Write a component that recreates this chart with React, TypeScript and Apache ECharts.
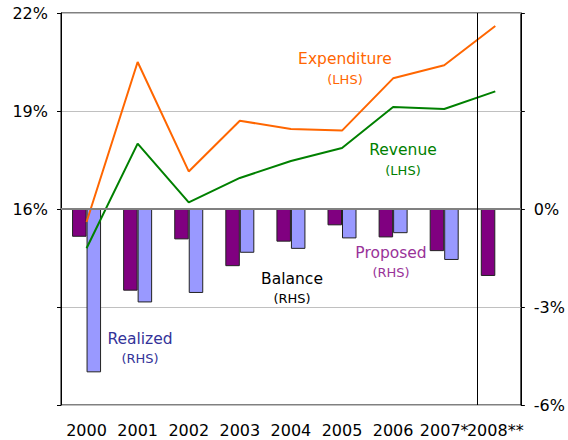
import React, { useEffect, useRef } from "react";
import * as echarts from "echarts";

const categories = ["2000", "2001", "2002", "2003", "2004", "2005", "2006", "2007*", "2008**"];
const expenditure = [15.6, 20.5, 17.15, 18.7, 18.45, 18.4, 20.0, 20.4, 21.6];
const revenue = [14.8, 18.0, 16.2, 16.95, 17.47, 17.87, 19.12, 19.06, 19.6];
const proposed = [-0.85, -2.5, -0.93, -1.75, -1.0, -0.5, -0.87, -1.29, -2.05];
const realized = [-5.0, -2.86, -2.57, -1.34, -1.22, -0.9, -0.74, -1.56, null];
const forecastDivider = 8.14;

const FONT = "DejaVu Sans";

export default function App() {
  const ref = useRef<HTMLDivElement>(null);
  useEffect(() => {
    if (!ref.current) return;
    const chart = echarts.init(ref.current, undefined, { renderer: "svg" });
    const label = (text: string, x: number, y: number, color: string, size: number) => ({
      type: "text",
      x,
      y,
      silent: true,
      z: 100,
      style: { text, fill: color, fontSize: size, fontFamily: FONT, align: "center", verticalAlign: "middle" },
    });
    chart.setOption({
      animation: false,
      backgroundColor: "#fff",
      textStyle: { fontFamily: FONT },
      grid: { left: 61, right: 45, top: 13, bottom: 35, show: true, borderColor: "#000", borderWidth: 1, backgroundColor: "transparent" },
      xAxis: [
        {
          type: "category",
          data: categories,
          axisLine: { show: true, lineStyle: { color: "#000", width: 1 } },
          axisTick: { show: false },
          axisLabel: { color: "#000", fontSize: 16, fontFamily: FONT, margin: 17, interval: 0 },
          splitLine: { show: false },
        },
        { type: "value", min: 0, max: 9, show: false },
      ],
      yAxis: [
        {
          type: "value",
          min: 10,
          max: 22,
          interval: 3,
          position: "left",
          axisLine: { show: true, lineStyle: { color: "#000" } },
          axisTick: { show: true, length: 4, lineStyle: { color: "#000" } },
          axisLabel: {
            color: "#000",
            fontSize: 16,
            fontFamily: FONT,
            margin: 13,
            formatter: (v: number) => (v >= 16 ? v + "%" : ""),
          },
          splitLine: { show: true, lineStyle: { color: "#c0c0c0", width: 1 } },
        },
        {
          type: "value",
          min: -6,
          max: 6,
          interval: 3,
          position: "right",
          axisLine: { show: true, lineStyle: { color: "#000" } },
          axisTick: { show: true, length: 4, lineStyle: { color: "#000" } },
          axisLabel: {
            color: "#000",
            fontSize: 16,
            fontFamily: FONT,
            margin: 13,
            formatter: (v: number) => (v <= 0 ? v + "%" : ""),
          },
          splitLine: { show: false },
        },
      ],
      series: [
        {
          name: "Proposed",
          type: "bar",
          yAxisIndex: 1,
          data: proposed,
          barWidth: 14.5,
          barGap: "0%",
          itemStyle: { color: "#800080", borderColor: "#222", borderWidth: 1 },
          markLine: {
            silent: true,
            symbol: "none",
            label: { show: false },
            lineStyle: { color: "#808080", width: 2, type: "solid" },
            data: [{ yAxis: 0 }],
          },
          z: 2,
        },
        {
          name: "Realized",
          type: "bar",
          yAxisIndex: 1,
          data: realized,
          barWidth: 14.5,
          barGap: "0%",
          itemStyle: { color: "#9999ff", borderColor: "#222", borderWidth: 1 },
          z: 2,
        },
        {
          name: "Expenditure",
          type: "line",
          yAxisIndex: 0,
          data: expenditure,
          showSymbol: false,
          symbol: "none",
          lineStyle: { color: "#ff6600", width: 2 },
          itemStyle: { color: "#ff6600" },
          z: 3,
        },
        {
          name: "Revenue",
          type: "line",
          yAxisIndex: 0,
          data: revenue,
          showSymbol: false,
          symbol: "none",
          lineStyle: { color: "#008000", width: 2 },
          itemStyle: { color: "#008000" },
          z: 3,
        },
        {
          name: "divider",
          type: "line",
          xAxisIndex: 1,
          yAxisIndex: 0,
          data: [],
          markLine: {
            silent: true,
            symbol: "none",
            label: { show: false },
            lineStyle: { color: "#000", width: 1, type: "solid" },
            data: [{ xAxis: forecastDivider }],
          },
        },
      ],
      graphic: [
        label("Expenditure", 345, 59, "#ff6600", 15.5),
        label("(LHS)", 345, 79, "#ff6600", 13),
        label("Revenue", 403, 150, "#008000", 15.5),
        label("(LHS)", 403, 170, "#008000", 13),
        label("Balance", 292, 279, "#000", 15.5),
        label("(RHS)", 292, 298, "#000", 13),
        label("Proposed", 391, 253, "#993399", 15.5),
        label("(RHS)", 391, 272, "#993399", 13),
        label("Realized", 140, 339, "#333399", 15.5),
        label("(RHS)", 140, 358, "#333399", 13),
      ],
    });
    return () => chart.dispose();
  }, []);
  return (
    <div
      ref={ref}
      style={{ position: "fixed", left: 0, top: 0, width: 568, height: 440, background: "#fff" }}
    />
  );
}
